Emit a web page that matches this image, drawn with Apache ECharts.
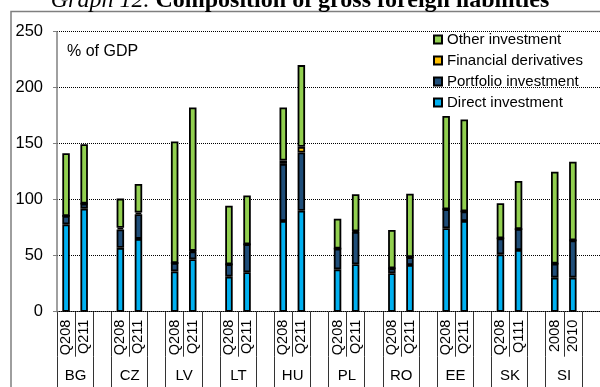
<!DOCTYPE html>
<html>
<head>
<meta charset="utf-8">
<script src="https://cdn.jsdelivr.net/npm/echarts@6/dist/echarts.min.js"></script>
<style>
  html, body { margin: 0; padding: 0; background: #fff; }
  #chart { width: 600px; height: 387px; }
</style>
</head>
<body>
<div id="chart"></div>
<script>
// Countries and the two reference periods shown for each of them
const countries = ['BG', 'CZ', 'LV', 'LT', 'HU', 'PL', 'RO', 'EE', 'SK', 'SI'];
const periods = [
  ['Q208', 'Q211'], ['Q208', 'Q211'], ['Q208', 'Q211'], ['Q208', 'Q211'], ['Q208', 'Q211'],
  ['Q208', 'Q211'], ['Q208', 'Q211'], ['Q208', 'Q211'], ['Q208', 'Q111'], ['2008', '2010']
];

// Gross foreign liabilities, % of GDP (two periods per country, in country order)
const directInvestment    = [78, 92, 57, 65, 36, 46.8, 31.3, 35.2, 81, 90.2, 37.8, 42.3, 34.3, 41.7, 74.5, 81, 51.2, 55.1, 30.4, 30.4];
const portfolioInvestment = [7.5, 4.5, 16.5, 22, 7.5, 7, 11, 25, 51, 52, 18.5, 29, 4.4, 7, 17, 8.6, 14.3, 18.7, 12.5, 33.3];
const financialDerivatives = [0, 0, 1.5, 1.5, 0, 0.5, 0, 0, 3, 5, 0, 0.5, 0, 0, 0, 0, 0, 0, 0, 0];
const otherInvestment     = [56, 53, 26, 25.5, 108.5, 128, 52.4, 43.5, 47.4, 73, 26.7, 33, 34.2, 56.6, 83.3, 82, 31.3, 42.9, 82, 70.2];

const yTicks = { min: 0, max: 250, step: 50 };

// Each country occupies two slots followed by an empty spacer slot
const periodAxis = [];
const countryAxis = [];
countries.forEach((c, i) => {
  periodAxis.push(periods[i][0], periods[i][1], '');
  countryAxis.push(c, '', '');
});
function spread(values) {
  const out = [];
  countries.forEach((c, i) => {
    out.push(values[2 * i], values[2 * i + 1], '-');
  });
  return out;
}

const FONT = 'Liberation Sans, Arial, sans-serif';
const border = { borderColor: '#000', borderWidth: 1.8 };

function barSeries(name, values, color) {
  return {
    name: name,
    type: 'bar',
    stack: 'total',
    barWidth: 7.5,
    z: 3,
    data: spread(values),
    itemStyle: Object.assign({ color: color }, border),
    emphasis: { disabled: true }
  };
}

const chart = echarts.init(document.getElementById('chart'), null, { renderer: 'canvas' });

chart.setOption({
  animation: false,
  backgroundColor: '#fff',
  title: {
    text: '{i|Graph 12. }{b|Composition of gross foreign liabilities}',
    left: 'center',
    top: -16,
    textStyle: {
      fontWeight: 'normal',
      rich: {
        i: { fontFamily: 'Liberation Serif, serif', fontStyle: 'italic', fontWeight: 'normal', fontSize: 24, color: '#000', lineHeight: 24 },
        b: { fontFamily: 'Liberation Serif, serif', fontWeight: 'bold', fontSize: 24, color: '#000', lineHeight: 24 }
      }
    }
  },
  graphic: [
    {
      type: 'rect',
      z: 0,
      silent: true,
      shape: { x: 11, y: 11.5, width: 700, height: 500 },
      style: { fill: null, stroke: '#7f7f7f', lineWidth: 1.5 }
    },
    {
      type: 'text',
      left: 67,
      top: 44,
      silent: true,
      style: { text: '% of GDP', font: '16px ' + FONT, fill: '#000' }
    }
  ],
  legend: {
    orient: 'vertical',
    left: 428,
    top: 27,
    itemWidth: 8,
    itemHeight: 8,
    itemGap: 6,
    icon: 'rect',
    selectedMode: false,
    data: ['Other investment', 'Financial derivatives', 'Portfolio investment', 'Direct investment'],
    textStyle: { fontFamily: FONT, fontSize: 15, color: '#000', lineHeight: 15 }
  },
  grid: {
    left: 57,
    top: 31.7,
    width: 565.8,
    height: 280,
    containLabel: false
  },
  xAxis: [
    {
      type: 'category',
      data: periodAxis,
      position: 'bottom',
      axisLine: { lineStyle: { color: '#555', width: 1 } },
      axisTick: { show: true, interval: 0, length: 45, lineStyle: { color: '#333', width: 1 } },
      axisLabel: {
        interval: 0,
        rotate: 90,
        margin: 8,
        fontFamily: FONT,
        fontSize: 14.5,
        color: '#000'
      },
      splitLine: { show: false }
    },
    {
      type: 'category',
      data: countryAxis,
      position: 'bottom',
      offset: 45,
      axisLine: { show: false },
      axisTick: {
        show: true,
        length: 40,
        interval: function (index) { return index % 3 !== 1; },
        lineStyle: { color: '#333', width: 1 }
      },
      axisLabel: {
        interval: 0,
        margin: 12,
        fontFamily: FONT,
        fontSize: 15,
        color: '#000',
        align: 'center',
        padding: [0, 0, 0, 18.86]
      },
      splitLine: { show: false }
    }
  ],
  yAxis: {
    type: 'value',
    min: yTicks.min,
    max: yTicks.max,
    interval: yTicks.step,
    z: 1,
    axisLine: { show: true, lineStyle: { color: '#808080', width: 1.5 } },
    axisTick: { show: true, length: 4, lineStyle: { color: '#808080', width: 1 } },
    axisLabel: { margin: 14, fontFamily: FONT, fontSize: 16.5, color: '#000' },
    splitLine: { show: true, lineStyle: { type: 'dotted', color: '#000', width: 1 } }
  },
  series: [
    barSeries('Direct investment', directInvestment, '#00B0F0'),
    barSeries('Portfolio investment', portfolioInvestment, '#1F4E79'),
    barSeries('Financial derivatives', financialDerivatives, '#FFC000'),
    barSeries('Other investment', otherInvestment, '#92D050')
  ]
});
</script>
</body>
</html>
